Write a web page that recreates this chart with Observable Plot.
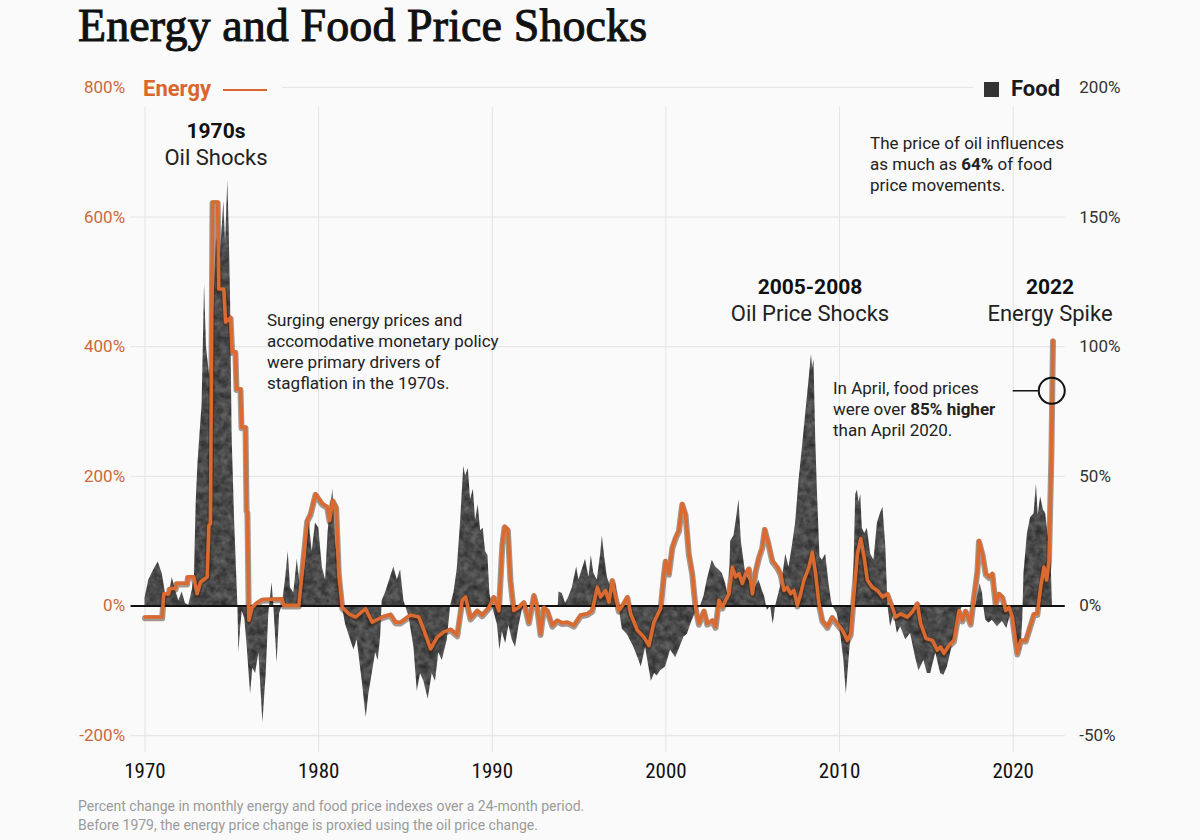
<!DOCTYPE html>
<html>
<head>
<meta charset="utf-8">
<script src="https://cdn.jsdelivr.net/npm/d3@7"></script>
<script src="https://cdn.jsdelivr.net/npm/@observablehq/plot@0.6"></script>
<style>
  body { margin: 0; background: #fafafa; }
  #wrap { position: relative; width: 1200px; height: 840px; overflow: hidden; background: #fafafa;
          font-family: Roboto, "DejaVu Sans", sans-serif; color: #222; }
  #wrap svg { position: absolute; left: 0; top: 0; }
  .abs { position: absolute; white-space: nowrap; }
  #title { left: 78px; top: 0px; font-family: "Liberation Serif", "DejaVu Serif", serif; font-size: 46px;
           line-height: 51px; color: #111; -webkit-text-stroke: 1px #111; letter-spacing: 0.1px; }
  .ann { font-size: 17px; line-height: 21px; color: #222; }
  .hd { text-align: center; width: 240px; }
  .hd b { font-size: 21px; line-height: 21px; display: block; color: #111; }
  .hd span { font-size: 22px; line-height: 22px; display: block; margin-top: 5px; color: #222; }
  #caption { left: 78px; top: 797px; font-size: 14px; line-height: 19px; color: #9a9a9a; }
  .leg { background: #fafafa; height: 24px; top: 77px; font-size: 22px; line-height: 24px; font-weight: bold; }
</style>
</head>
<body>
<div id="wrap">
  <div id="title" class="abs">Energy and Food Price Shocks</div>
  <div id="chart"></div>

  <div class="abs leg" style="left:130px;width:152px;">
    <span style="margin-left:13px;color:#d9652f;">Energy</span><span style="display:inline-block;width:44px;height:2px;background:#d9652f;margin-left:12px;vertical-align:middle;"></span>
  </div>
  <div class="abs leg" style="left:973px;width:92px;">
    <span style="display:inline-block;width:15px;height:15px;background:#333;margin-left:11px;vertical-align:-1px;"></span><span style="margin-left:12px;color:#1a1a1a;">Food</span>
  </div>

  <div class="abs hd" style="left:96px;top:121px;"><b>1970s</b><span>Oil Shocks</span></div>
  <div class="abs hd" style="left:690px;top:277px;"><b>2005-2008</b><span>Oil Price Shocks</span></div>
  <div class="abs hd" style="left:930px;top:277px;"><b>2022</b><span>Energy Spike</span></div>

  <div class="abs ann" style="left:267px;top:310px;">Surging energy prices and<br>accomodative monetary policy<br>were primary drivers of<br>stagflation in the 1970s.</div>
  <div class="abs ann" style="left:870px;top:133px;">The price of oil influences<br>as much as <b>64%</b> of food<br>price movements.</div>
  <div class="abs ann" style="left:833px;top:378px;">In April, food prices<br>were over <b>85% higher</b><br>than April 2020.</div>

  <div id="caption" class="abs">Percent change in monthly energy and food price indexes over a 24-month period.<br>Before 1979, the energy price change is proxied using the oil price change.</div>
</div>
<script>
// ---------- data ----------
const xTicks = [1970, 1980, 1990, 2000, 2010, 2020];
const energyTicks = [-200, 0, 200, 400, 600, 800];   // left axis, energy % change
const foodPerEnergy = 4;                              // right axis: food % = energy-axis value / 4

// Energy: 24-month % change [year, %]
const energy = [[1970.0,-17],[1970.99,-17],[1971.08,19],[1971.37,19],[1971.41,27],[1971.76,27],[1971.8,35],[1972.43,35],[1972.47,45],[1972.81,45],[1973.0,19],[1973.2,37],[1973.58,45],[1973.68,124],[1973.77,127],[1973.89,623],[1974.19,623],[1974.25,489],[1974.54,489],[1974.64,438],[1974.93,445],[1975.02,392],[1975.21,392],[1975.27,335],[1975.5,335],[1975.56,276],[1975.79,276],[1975.85,148],[1975.9,145],[1975.98,-22],[1976.17,-2],[1976.46,5],[1976.75,10],[1977.9,11],[1977.99,1],[1978.86,1],[1979.06,55],[1979.34,132],[1979.53,142],[1979.82,173],[1980.21,158],[1980.5,153],[1980.63,132],[1980.82,163],[1981.01,153],[1981.16,50],[1981.36,-2],[1981.74,-12],[1982.13,-17],[1982.7,-4],[1983.09,-25],[1983.66,-17],[1984.14,-13],[1984.43,-25],[1984.72,-25],[1985.29,-14],[1985.77,-17],[1986.06,-37],[1986.45,-66],[1986.83,-48],[1987.21,-40],[1987.6,-36],[1987.98,-45],[1988.27,9],[1988.46,14],[1988.75,-19],[1989.14,-7],[1989.42,-14],[1989.81,-2],[1990.09,14],[1990.38,-7],[1990.58,96],[1990.71,123],[1990.9,118],[1991.05,40],[1991.24,-7],[1991.53,-2],[1991.82,6],[1992.11,-25],[1992.4,17],[1992.59,-2],[1992.78,-43],[1992.97,-2],[1993.17,-7],[1993.46,-30],[1993.74,-22],[1994.03,-26],[1994.32,-25],[1994.7,-30],[1995.09,-14],[1995.47,-12],[1995.76,-7],[1996.05,29],[1996.24,14],[1996.53,24],[1996.72,6],[1996.91,40],[1997.1,14],[1997.29,-7],[1997.58,4],[1997.78,14],[1997.97,-12],[1998.35,-37],[1998.73,-48],[1999.02,-61],[1999.31,-25],[1999.69,-4],[1999.89,50],[1999.98,70],[2000.17,50],[2000.37,91],[2000.56,106],[2000.75,117],[2000.94,158],[2001.13,142],[2001.32,81],[2001.52,50],[2001.71,-2],[2001.9,-27],[2002.19,-7],[2002.38,-27],[2002.67,-22],[2002.86,-32],[2003.05,9],[2003.25,-2],[2003.44,9],[2003.63,19],[2003.82,60],[2004.02,45],[2004.21,50],[2004.4,35],[2004.59,50],[2004.78,58],[2004.98,19],[2005.17,55],[2005.36,76],[2005.55,91],[2005.69,119],[2005.87,101],[2006.13,70],[2006.42,60],[2006.61,50],[2006.8,24],[2006.99,29],[2007.18,19],[2007.37,24],[2007.57,1],[2007.76,19],[2007.95,40],[2008.24,60],[2008.43,83],[2008.62,50],[2008.81,4],[2009.01,-22],[2009.3,-32],[2009.58,-17],[2009.87,-27],[2010.16,-37],[2010.45,-53],[2010.64,-43],[2010.83,19],[2011.03,81],[2011.22,104],[2011.41,76],[2011.6,40],[2011.89,29],[2012.18,24],[2012.47,14],[2012.75,19],[2013.04,-2],[2013.23,-17],[2013.52,-12],[2013.91,-17],[2014.19,-9],[2014.48,4],[2014.67,-27],[2014.98,-50],[2015.35,-53],[2015.63,-68],[2015.82,-63],[2016.01,-73],[2016.3,-61],[2016.59,-53],[2016.88,-7],[2017.07,-22],[2017.26,-7],[2017.55,-27],[2017.74,14],[2017.94,55],[2018.03,101],[2018.23,81],[2018.42,50],[2018.61,45],[2018.8,50],[2018.99,4],[2019.18,19],[2019.38,14],[2019.57,-7],[2019.76,-2],[2019.95,-17],[2020.24,-73],[2020.43,-53],[2020.72,-53],[2020.91,-37],[2021.2,-12],[2021.39,-12],[2021.58,29],[2021.77,60],[2021.93,40],[2022.06,70],[2022.2,235],[2022.29,410]];

// Food: 24-month % change [year, %] (right axis)
const food = [[1970.0,3],[1970.22,10],[1970.51,14],[1970.76,17],[1970.99,12.5],[1971.18,5],[1971.37,3.5],[1971.57,11],[1971.76,6],[1971.95,2],[1972.14,5.4],[1972.33,1],[1972.52,0.3],[1972.72,6],[1972.85,12],[1972.95,40],[1973.05,55],[1973.29,78],[1973.43,124],[1973.54,100],[1973.73,88],[1973.93,110],[1974.12,142],[1974.35,136],[1974.54,156],[1974.64,140],[1974.77,164],[1974.85,145],[1974.93,117],[1975.02,65],[1975.16,33],[1975.27,14],[1975.35,0],[1975.41,-18],[1975.5,-9],[1975.6,-2],[1975.75,-5],[1975.89,-16],[1976.08,-34],[1976.21,-24],[1976.37,-26],[1976.56,-18],[1976.79,-45],[1976.98,-26],[1977.13,-3],[1977.32,9],[1977.42,0],[1977.61,-22],[1977.75,-3],[1977.9,0],[1978.09,10],[1978.25,21],[1978.38,7],[1978.57,5],[1978.77,18],[1978.9,10],[1979.06,7],[1979.29,19],[1979.44,33],[1979.63,21],[1979.82,32],[1980.01,30],[1980.21,15],[1980.4,10],[1980.55,29],[1980.69,38],[1980.82,45],[1980.97,25],[1981.16,12.5],[1981.36,0],[1981.55,-7],[1981.84,-13],[1982.03,-17],[1982.22,-13],[1982.51,-29],[1982.74,-43],[1982.89,-34],[1983.09,-26],[1983.28,-18],[1983.43,-21],[1983.57,-12],[1983.66,2],[1983.85,5],[1984.33,15],[1984.53,10],[1984.72,14],[1984.91,2],[1985.2,-4],[1985.49,-16],[1985.68,-33],[1985.87,-26],[1986.06,-29],[1986.31,-36],[1986.54,-26],[1986.73,-29],[1986.92,-18],[1987.12,-21],[1987.41,-13],[1987.6,0],[1987.79,5],[1987.98,14],[1988.17,32],[1988.36,54],[1988.46,50],[1988.62,53],[1988.75,41],[1988.91,45],[1989.04,33],[1989.19,39],[1989.33,29],[1989.48,30],[1989.61,21],[1989.75,19.5],[1989.86,5],[1990.0,0],[1990.29,-7],[1990.44,-17],[1990.58,-10],[1990.77,-14.5],[1990.96,-7.5],[1991.15,-13],[1991.34,-16],[1991.53,-8],[1991.73,-1.5],[1991.9,0],[1993.8,0],[1993.84,5.4],[1994.03,4.8],[1994.22,1],[1994.41,3.5],[1994.61,7],[1994.86,15],[1994.99,10],[1995.18,14],[1995.37,18],[1995.57,11],[1995.7,19.5],[1995.85,12.5],[1996.05,10],[1996.24,20],[1996.34,27],[1996.47,19],[1996.63,11],[1996.91,6],[1997.1,9],[1997.29,0],[1997.49,-9],[1997.78,-11],[1998.16,-16],[1998.45,-21],[1998.58,-23.5],[1998.83,-16],[1999.02,-23.5],[1999.16,-29],[1999.35,-26],[1999.5,-27],[1999.69,-25],[1999.98,-23.5],[2000.27,-17],[2000.56,-20],[2000.75,-17],[2001.04,-12],[2001.23,-11],[2001.52,-5.5],[2001.81,-1],[2002.0,0],[2002.2,4],[2002.38,10],[2002.57,15],[2002.67,17.6],[2002.86,15],[2003.05,14],[2003.25,12.5],[2003.44,8.6],[2003.63,2],[2003.73,25],[2003.92,27],[2004.07,34],[2004.21,41],[2004.34,25],[2004.59,12.5],[2004.78,10],[2005.07,6],[2005.36,10],[2005.55,6],[2005.69,3.5],[2005.84,-1.7],[2006.03,0],[2006.18,-7],[2006.32,0],[2006.51,5],[2006.7,10],[2006.9,20],[2007.09,15],[2007.28,23],[2007.47,32],[2007.66,48],[2007.86,61],[2008.05,74],[2008.24,87],[2008.38,97],[2008.45,92],[2008.53,95],[2008.62,66],[2008.72,45],[2008.87,19],[2009.01,17.6],[2009.2,20],[2009.39,8.6],[2009.53,2],[2009.6,0],[2009.87,-3],[2010.06,-10.6],[2010.25,-21],[2010.39,-34],[2010.54,-21],[2010.68,-9.4],[2010.78,0],[2010.93,43],[2011.03,44.6],[2011.12,40],[2011.22,43],[2011.31,30],[2011.45,28],[2011.6,30],[2011.79,20],[2011.98,17.6],[2012.18,32],[2012.37,36],[2012.5,38],[2012.66,23],[2012.79,0],[2012.94,-8],[2013.13,-3],[2013.33,-10.6],[2013.52,-8],[2013.81,-13],[2014.09,-10.6],[2014.38,-20],[2014.57,-25],[2014.86,-21],[2015.06,-26],[2015.25,-26],[2015.54,-18],[2015.82,-26],[2016.01,-26.7],[2016.21,-23.5],[2016.4,-18],[2016.59,-12],[2016.79,-5.5],[2016.98,-1.5],[2017.1,0],[2017.85,0],[2017.94,3.5],[2018.09,8.6],[2018.23,5],[2018.3,0],[2018.42,-5.5],[2018.61,-6.6],[2018.8,-5.5],[2019.09,-8],[2019.38,-6],[2019.63,-8.7],[2019.76,-5.5],[2019.95,-1],[2020.05,-10],[2020.2,-18],[2020.45,-17],[2020.55,-5],[2020.62,12.5],[2020.82,28],[2021.0,34],[2021.2,35.6],[2021.34,47],[2021.44,35],[2021.58,42],[2021.74,37],[2021.87,35.6],[2022.0,28],[2022.17,20],[2022.26,0]];

// April 2022 callout (food %, right axis) and its leader line
const callout = [{year: 2022.22, food: 83}];
const leader = [{from: 2020.0, to: 2021.45, food: 83}];

// ---------- chart ----------
const orange = "#db6a30";
const chart = Plot.plot({
  width: 1200,
  height: 840,
  marginLeft: 130.6,
  marginRight: 135.2,
  marginTop: 86.9,
  marginBottom: 88,
  x: {domain: [1969.2, 2023.0]},
  y: {domain: [-226, 800]},
  style: {background: "transparent", fontFamily: "Roboto, 'DejaVu Sans', sans-serif", overflow: "visible"},
  marks: [
    Plot.ruleX(xTicks, {stroke: "#e3e3e3", strokeWidth: 1, insetTop: 20}),
    Plot.ruleY(energyTicks.filter(d => d !== 0), {stroke: "#e3e3e3", strokeWidth: 1}),
    Plot.areaY(food, {x: d => d[0], y: d => d[1] * foodPerEnergy, fill: "#4a4a4a"}),
    Plot.ruleY([0], {stroke: "#111", strokeWidth: 2}),
    Plot.line(energy, {x: d => d[0], y: d => d[1], stroke: "#3a2010", strokeOpacity: 0.45, strokeWidth: 6, dy: 1.2, strokeLinejoin: "round"}),
    Plot.line(energy, {x: d => d[0], y: d => d[1], stroke: orange, strokeWidth: 3.6, strokeLinejoin: "round"}),
    Plot.axisY(energyTicks, {anchor: "left", tickSize: 0, tickPadding: 6, tickFormat: d => d + "%", color: "#c9693b", fontSize: 17, label: null}),
    Plot.axisY(energyTicks, {anchor: "right", tickSize: 0, tickPadding: 14, tickFormat: d => (d / foodPerEnergy) + "%", color: "#333", fontSize: 17, label: null}),
    Plot.axisX(xTicks, {anchor: "bottom", tickSize: 0, tickPadding: 11, tickFormat: d => String(d), color: "#111", fontSize: 21, label: null,
      fontFamily: "'Roboto Condensed', 'DejaVu Sans Condensed', 'Liberation Sans Narrow', Roboto, sans-serif"}),
    Plot.ruleY(leader, {x1: "from", x2: "to", y: d => d.food * foodPerEnergy, stroke: "#111", strokeWidth: 1.5}),
    Plot.dot(callout, {x: "year", y: d => d.food * foodPerEnergy, r: 13, stroke: "#111", strokeWidth: 2, fill: "none"})
  ]
});
document.getElementById("chart").appendChild(chart);

// stone-like texture for the food area
const svg = d3.select(chart);
const defs = svg.insert("defs", ":first-child");
const flt = defs.append("filter").attr("id", "stone").attr("x", "-5%").attr("y", "-5%").attr("width", "110%").attr("height", "110%")
  .attr("color-interpolation-filters", "sRGB");
flt.append("feTurbulence").attr("type", "fractalNoise").attr("baseFrequency", 0.14).attr("numOctaves", 3).attr("seed", 7).attr("result", "noise");
flt.append("feColorMatrix").attr("in", "noise").attr("type", "matrix")
  .attr("values", "0.32 0 0 0 0.13  0.32 0 0 0 0.13  0.32 0 0 0 0.13  0 0 0 0 1").attr("result", "gray");
flt.append("feComposite").attr("in", "gray").attr("in2", "SourceGraphic").attr("operator", "in");
svg.selectAll('g[aria-label="area"]').attr("filter", "url(#stone)");
</script>
</body>
</html>
